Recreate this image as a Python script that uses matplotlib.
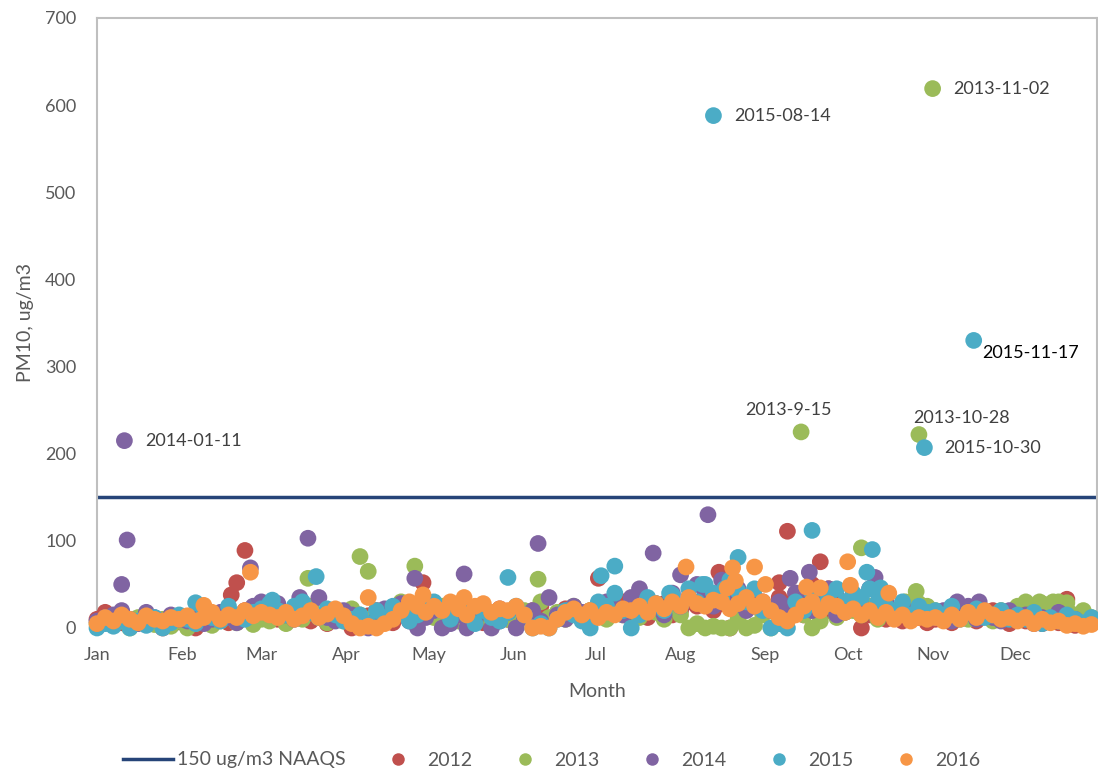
import numpy as np
import matplotlib
matplotlib.use("Agg")
import matplotlib.pyplot as plt
from matplotlib.lines import Line2D

plt.rcParams['font.family'] = ['Lato', 'DejaVu Sans']

years = ["2012", "2013", "2014", "2015", "2016"]
colors = ["#C0504D", "#9BBB59", "#8064A2", "#4BACC6", "#F79646"]
months = ["Jan", "Feb", "Mar", "Apr", "May", "Jun", "Jul", "Aug", "Sep", "Oct", "Nov", "Dec"]
month_start_doy = [1, 32, 61, 92, 122, 153, 183, 214, 245, 275, 306, 336]
naaqs = 150

# Background daily values sampled every third day (day-of-year 1, 4, 7, ...)
bg_2012 = [10, 18, 12, 6, 3, 8, 14, 5, 0, 10, 7,
           4, 0, 12, 8, 15, 6, 10, 20, 14, 25,
           18, 10, 6, 15, 20, 8, 12, 5, 18, 10,
           0, 8, 14, 20, 10, 6, 15, 22, 12, 25,
           20, 15, 8, 18, 25, 12, 6, 15, 22, 10,
           8, 14, 20, 25, 10, 15, 22, 18, 12, 20,
           25, 15, 20, 30, 18, 25, 12, 22, 28, 15, 20,
           30, 25, 35, 20, 28, 0, 22, 35, 25, 30,
           20, 35, 28, 40, 15, 30, 25, 20, 35, 18,
           30, 0, 15, 25, 10, 20, 8, 15, 12, 6,
           10, 15, 6, 12, 18, 8, 14, 20, 10, 5,
           12, 8, 15, 5, 10, 6, 12, 3, 8, 10]
bg_2013 = [5, 10, 3, 8, 0, 12, 6, 4, 10, 2, 8,
           0, 5, 10, 3, 8, 12, 6, 15, 4, 10,
           8, 14, 5, 20, 10, 25, 12, 6, 15, 8,
           22, 15, 10, 6, 18, 12, 30, 20, 8, 14,
           12, 25, 18, 8, 15, 10, 20, 6, 14, 10,
           15, 20, 8, 30, 12, 18, 10, 25, 14, 20,
           18, 10, 25, 15, 20, 12, 28, 18, 10, 22, 15,
           0, 5, 0, 2, 0, 0, 10, 0, 3, 15,
           0, 5, 10, 20, 15, 0, 8, 25, 12, 18,
           20, 15, 25, 10, 18, 12, 22, 30, 28, 25,
           20, 15, 12, 18, 10, 22, 15, 8, 20, 12,
           25, 30, 20, 28, 25, 30, 22, 15, 20, 12]
bg_2014 = [8, 12, 15, 20, 10, 5, 18, 12, 6, 15, 10,
           8, 14, 5, 10, 18, 12, 6, 15, 25, 30,
           20, 28, 15, 10, 25, 18, 35, 12, 8, 20,
           15, 5, 0, 10, 22, 15, 28, 8, 0, 12,
           20, 0, 5, 15, 0, 10, 25, 0, 8, 18,
           0, 12, 20, 8, 35, 15, 10, 25, 18, 12,
           20, 30, 25, 15, 35, 45, 20, 28, 15, 40, 25,
           35, 50, 40, 25, 55, 30, 45, 20, 35, 28,
           20, 30, 25, 40, 35, 20, 28, 45, 15, 30,
           35, 25, 45, 20, 30, 15, 25, 10, 20, 15,
           12, 20, 8, 15, 25, 10, 18, 12, 8, 20,
           10, 15, 5, 12, 8, 18, 6, 10, 4, 8]
bg_2015 = [0, 5, 2, 10, 0, 8, 3, 12, 0, 6, 15,
           10, 5, 20, 12, 8, 25, 15, 10, 18, 22,
           28, 20, 15, 25, 30, 18, 12, 22, 15, 8,
           10, 15, 5, 20, 12, 25, 18, 8, 15, 22,
           30, 20, 10, 25, 15, 5, 20, 12, 8, 18,
           25, 15, 0, 5, 0, 10, 20, 15, 8, 0,
           30, 25, 40, 20, 0, 15, 35, 28, 20, 38, 25,
           45, 30, 50, 40, 35, 55, 42, 30, 45, 20,
           0, 5, 0, 30, 20, 40, 25, 35, 45, 30,
           40, 35, 45, 30, 25, 20, 30, 15, 25, 18,
           20, 15, 25, 10, 18, 22, 12, 15, 20, 10,
           15, 10, 18, 5, 12, 8, 15, 10, 6, 12]
bg_2016 = [5, 12, 8, 15, 10, 6, 14, 10, 8, 12, 10,
           14, 8, 12, 18, 10, 15, 12, 20, 14, 18,
           15, 12, 18, 10, 14, 20, 12, 16, 22, 14,
           5, 0, 2, 0, 5, 10, 20, 30, 25, 18,
           25, 20, 30, 22, 15, 25, 28, 18, 22, 20,
           25, 15, 0, 2, 0, 10, 18, 22, 15, 20,
           12, 18, 15, 22, 20, 25, 18, 28, 22, 30, 25,
           35, 28, 25, 32, 30, 22, 28, 35, 25, 30,
           20, 12, 8, 15, 25, 30, 20, 28, 25, 18,
           22, 15, 20, 12, 18, 10, 15, 8, 12, 10,
           12, 8, 15, 10, 18, 12, 20, 15, 10, 12,
           8, 12, 5, 10, 6, 8, 3, 5, 2, 4]

# Notable days (day of year) and values
pk_days_2012 = [50, 52, 55, 120, 184, 228, 250, 253, 262, 265, 268, 285, 355]
pk_vals_2012 = [38, 52, 89, 52, 57, 64, 52, 111, 50, 76, 45, 47, 33]
pk_days_2013 = [78, 97, 100, 117, 162, 258, 280, 296, 300, 301, 306, 340, 345, 350, 352, 355]
pk_vals_2013 = [57, 82, 65, 71, 56, 225, 92, 30, 42, 222, 619, 28, 30, 30, 28, 29]
pk_days_2014 = [10, 11, 12, 57, 75, 78, 117, 135, 162, 204, 214, 224, 254, 261, 285, 315, 323]
pk_vals_2014 = [50, 215, 101, 69, 35, 103, 57, 62, 97, 86, 61, 130, 57, 64, 58, 30, 30]
pk_days_2015 = [37, 65, 81, 151, 185, 190, 210, 222, 226, 230, 235, 262, 282, 284, 287, 303, 321]
pk_vals_2015 = [29, 32, 59, 58, 60, 71, 40, 50, 588, 45, 81, 112, 64, 90, 46, 207, 330]
pk_days_2016 = [40, 57, 100, 120, 135, 216, 231, 233, 234, 241, 245, 260, 265, 275, 276, 290]
pk_vals_2016 = [26, 64, 35, 38, 35, 70, 46, 69, 54, 70, 50, 47, 46, 76, 49, 40]

# Labelled exceedance events
ann_days = [11, 226, 306, 321, 258, 301, 303]
ann_vals = [215, 588, 619, 330, 225, 222, 207]
ann_text = ["2014-01-11", "2015-08-14", "2013-11-02", "2015-11-17", "2013-9-15", "2013-10-28", "2015-10-30"]

bgs = [bg_2012, bg_2013, bg_2014, bg_2015, bg_2016]
pkd = [pk_days_2012, pk_days_2013, pk_days_2014, pk_days_2015, pk_days_2016]
pkv = [pk_vals_2012, pk_vals_2013, pk_vals_2014, pk_vals_2015, pk_vals_2016]

fig = plt.figure(figsize=(10.98, 7.72), dpi=100)
ax = fig.add_axes([97 / 1098, 1 - 628 / 772, 1000 / 1098, 610 / 772])

ax.axhline(naaqs, color="#264478", lw=2.5, zorder=2)

for i, yr in enumerate(years):
    bg = bgs[i]
    d = np.arange(1, 1 + 3 * len(bg), 3)
    x = np.concatenate([d, np.array(pkd[i])])
    y = np.concatenate([np.array(bg), np.array(pkv[i])])
    ax.scatter(x, y, s=145, color=colors[i], edgecolors="none", zorder=3 + i, clip_on=False)

offsets = [(15, 0, "left"), (15, 0, "left"), (15, 0, "left"), (6, -9, "left"),
           (-9, 16, "center"), (31, 12, "center"), (14, 0, "left")]
for d, v, t, (dx, dy, ha) in zip(ann_days, ann_vals, ann_text, offsets):
    col = "#000000" if t == "2015-11-17" else "#404040"
    ax.annotate(t, (d, v), xytext=(dx, dy), textcoords="offset points",
                ha=ha, va="center", fontsize=13, color=col, zorder=10)

ax.set_xlim(1, 366)
ax.set_ylim(0, 700)
ax.set_yticks(range(0, 701, 100))
ax.set_xticks(month_start_doy)
ax.set_xticklabels(months)
ax.tick_params(axis="both", length=0, labelsize=13, labelcolor="#595959")
ax.tick_params(axis="y", pad=15)
ax.tick_params(axis="x", pad=14)
for s in ax.spines.values():
    s.set_color("#BFBFBF")
    s.set_linewidth(1.5)
ax.spines["bottom"].set_visible(False)

ax.set_xlabel("Month", fontsize=14, color="#595959", labelpad=14)
ax.set_ylabel("PM10, ug/m3", fontsize=14, color="#595959", labelpad=8)

handles = [Line2D([0], [0], color="#264478", lw=2.5)]
labels = ["150 ug/m3 NAAQS"]
for i, yr in enumerate(years):
    handles.append(Line2D([0], [0], marker="o", ls="none", markersize=9,
                          markerfacecolor=colors[i], markeredgecolor="none"))
    labels.append(yr)
fig.legend(handles, labels, loc="center", bbox_to_anchor=(0.502, 1 - 760 / 772),
           ncol=6, frameon=False, fontsize=14, handlelength=2.6, columnspacing=1.4,
           handletextpad=0.2, labelcolor="#595959")

fig.savefig("out.png", dpi=100)
